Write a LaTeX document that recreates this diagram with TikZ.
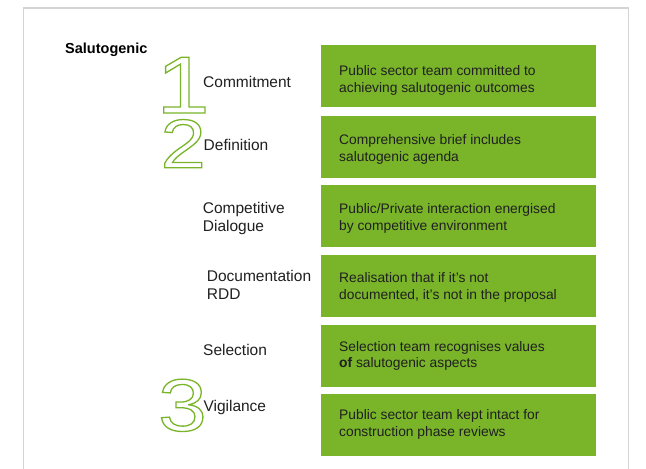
\documentclass[tikz,border=0pt]{standalone}
\usepackage{fontspec}
\setmainfont{Liberation Sans}
\newfontfamily\digitfont[FakeStretch=1.18]{Liberation Sans}
\definecolor{leaf}{RGB}{121,180,41}
\definecolor{framegray}{RGB}{212,212,212}
\definecolor{ink}{RGB}{32,32,32}
\newcommand{\outlinedigit}[1]{\special{pdf:literal direct 1 Tr 1.3 w}#1\special{pdf:literal direct 0 Tr 0.4 w}}
\tikzset{
  greenbox/.style={fill=leaf, draw=none, anchor=north west, minimum width=275pt, minimum height=61.7pt, inner sep=0pt},
  boxtext/.style={anchor=base west, inner sep=0pt, align=left, text=ink, font=\fontsize{13.8}{16.7}\selectfont},
  steplabel/.style={anchor=base west, inner sep=0pt, align=left, text=ink, font=\fontsize{15.5}{18}\selectfont},
  bignum/.style={anchor=base, inner sep=0pt, text=leaf, text height=0.72em, text depth=0pt},
  framestroke/.style={draw=framegray, line width=1.5pt}
}
\begin{document}
\begin{tikzpicture}[x=1pt,y=-1pt]
\useasboundingbox (0,0) rectangle (646,469);
\fill[white] (0,0) rectangle (646,469);
% frame
\coordinate (fbl) at (23.5,469);
\coordinate (ftl) at (23.5,8);
\coordinate (ftr) at (628.5,8);
\coordinate (fbr) at (628.5,469);
\draw[framestroke] (fbl) -- (ftl) -- (ftr) -- (fbr);
% title
\node[anchor=base west, inner sep=0pt, text=black, font=\fontsize{14.5}{17}\selectfont\bfseries] (title) at (65,53.5) {Salutogenic};
% green boxes
\node[greenbox] (b1) at (321,45) {};
\node[greenbox] (b2) at (321,116) {};
\node[greenbox] (b3) at (321,185) {};
\node[greenbox] (b4) at (321,255) {};
\node[greenbox] (b5) at (321,325) {};
\node[greenbox] (b6) at (321,394) {};
% box texts (base anchor = baseline of the last line)
\node[boxtext] (t1) at (339,92.2) {Public sector team committed to\\achieving salutogenic outcomes};
\node[boxtext] (t2) at (339,161.2) {Comprehensive brief includes\\salutogenic agenda};
\node[boxtext] (t3) at (339,230) {Public/Private interaction energised\\by competitive environment};
\node[boxtext] (t4) at (339,299.4) {Realisation that if it’s not\\documented, it’s not in the proposal};
\node[boxtext] (t5) at (339,367.7) {Selection team recognises values\\\textbf{of} salutogenic aspects};
\node[boxtext] (t6) at (339,436.2) {Public sector team kept intact for\\construction phase reviews};
% step labels
\node[steplabel] (l1) at (203,87.3) {Commitment};
\node[steplabel] (l2) at (203.5,150) {Definition};
\node[steplabel] (l3) at (202.7,231.5) {Competitive\\Dialogue};
\node[steplabel] (l4) at (206.7,299.5) {Documentation\\RDD};
\node[steplabel] (l5) at (203,355) {Selection};
\node[steplabel] (l6) at (203.3,411.7) {Vigilance};
% big outlined numerals
\node[bignum, font=\digitfont\fontsize{81}{81}\selectfont] (n1) at (183,113) {\outlinedigit{1}};
\node[bignum, font=\digitfont\fontsize{69}{69}\selectfont] (n2) at (183.2,167.7) {\outlinedigit{2}};
\node[bignum, font=\digitfont\fontsize{74}{74}\selectfont] (n3) at (182.5,430.8) {\outlinedigit{3}};
\end{tikzpicture}
\end{document}
